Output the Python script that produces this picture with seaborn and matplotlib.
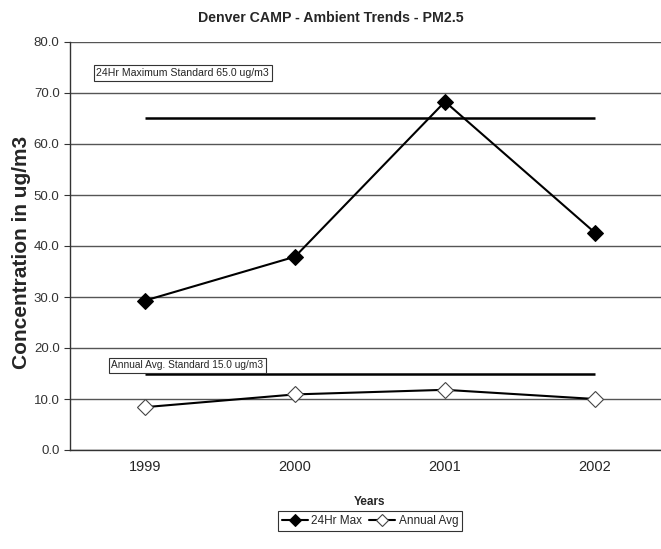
import matplotlib
matplotlib.use("Agg")
import matplotlib.pyplot as plt
import seaborn as sns
import pandas as pd
import numpy as np

# dane
years = ["1999", "2000", "2001", "2002"]
max_24hr = [29.3, 37.9, 68.3, 42.6]
annual_avg = [8.4, 10.9, 11.8, 10.0]
standard_24hr = 65.0
standard_annual = 15.0
y_ticks = [0, 10, 20, 30, 40, 50, 60, 70, 80]

sns.set_style("white")
plt.rcParams['font.family'] = ['Liberation Sans', 'DejaVu Sans']

df = pd.DataFrame({"Year": years, "24Hr Max": max_24hr, "Annual Avg": annual_avg})

fig = plt.figure(figsize=(6.61, 5.49), dpi=100)
ax = fig.add_axes([70 / 661, 99 / 549, 600 / 661, 408 / 549])

# linie standardów
ax.hlines(standard_24hr, 0, len(years) - 1, color="black", lw=1.8, zorder=3)
ax.hlines(standard_annual, 0, len(years) - 1, color="black", lw=1.8, zorder=3)

sns.lineplot(data=df, x="Year", y="24Hr Max", ax=ax, color="black", lw=1.5,
             marker="D", markersize=8, markerfacecolor="black", markeredgecolor="black",
             label="24Hr Max", zorder=4)
sns.lineplot(data=df, x="Year", y="Annual Avg", ax=ax, color="black", lw=1.5,
             marker="D", markersize=8, markerfacecolor="white", markeredgecolor="#444444",
             markeredgewidth=0.8, label="Annual Avg", zorder=4)

ax.set_xlim(-0.5, len(years) - 0.5)
ax.set_ylim(0, 80)
ax.set_yticks(y_ticks)
ax.set_yticklabels([f"{v:.1f}" for v in y_ticks], fontsize=9.5, color="#333333")
ax.yaxis.grid(True, color="#555555", lw=1)
ax.set_axisbelow(True)

ax.set_xticks(range(len(years)))
ax.set_xticklabels(years, fontsize=10.5)
ax.set_xticks(np.arange(0.5, len(years) - 1, 1), minor=True)
ax.tick_params(axis="x", which="major", length=0, pad=7)
ax.tick_params(axis="x", which="minor", length=6, direction="out", color="#333333")
ax.tick_params(axis="y", length=4, direction="out", color="#333333", left=True)

for s in ["top", "right"]:
    ax.spines[s].set_visible(False)
for s in ["left", "bottom"]:
    ax.spines[s].set_color("#333333")
    ax.spines[s].set_linewidth(1)

ax.set_xlabel("Years", fontsize=8.5, fontweight="bold", labelpad=16)
ax.set_ylabel("")
fig.text(22 / 661, 1 - 252 / 549, "Concentration in ug/m3", rotation=90, ha="center",
         va="center", fontsize=15, fontweight="bold")
fig.text(0.5, 0.968, "Denver CAMP - Ambient Trends - PM2.5", ha="center", va="center",
         fontsize=10.2, fontweight="bold")

box = dict(boxstyle="square,pad=0.25", facecolor="white", edgecolor="#333333", lw=0.8)
ax.text(-0.325, 73.9, "24Hr Maximum Standard 65.0 ug/m3", fontsize=7.6, va="center",
        ha="left", bbox=box)
ax.text(-0.225, 16.6, "Annual Avg. Standard 15.0 ug/m3", fontsize=7.3, va="center",
        ha="left", bbox=box)

leg = ax.legend(loc="center", bbox_to_anchor=(370 / 661, 28 / 549),
                bbox_transform=fig.transFigure, ncol=2, fontsize=8.5, frameon=True,
                fancybox=False, handlelength=2.2, handletextpad=0.3, columnspacing=0.6,
                borderpad=0.3)
leg.get_frame().set_edgecolor("black")
leg.get_frame().set_linewidth(0.8)
for h in leg.get_lines():
    h.set_markersize(6)

fig.savefig("out.png", dpi=100)
